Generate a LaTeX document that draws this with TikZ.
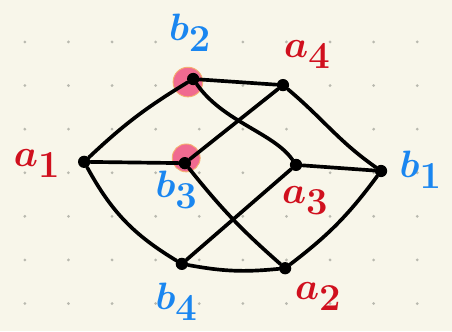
\documentclass[tikz,border=0pt]{standalone}
\usetikzlibrary{calc}
\usepackage{amsmath}
\definecolor{paper}{HTML}{F8F6EA}
\definecolor{griddot}{HTML}{B9B9AF}
\definecolor{inkred}{HTML}{D0101E}
\definecolor{inkblue}{HTML}{1A86F0}
\definecolor{marker}{HTML}{F06A90}
\definecolor{markeredge}{HTML}{F5B070}

\begin{document}
\begin{tikzpicture}[
    vtx/.style={circle, fill=black, inner sep=0pt, minimum size=8pt},
    edge/.style={line width=2.4pt, line cap=round},
    lblred/.style={text=inkred, font=\fontsize{35}{36}\selectfont\boldmath},
    lblblue/.style={text=inkblue, font=\fontsize{35}{36}\selectfont\boldmath},
    hilite/.style={fill=marker, draw=markeredge, line width=0.6pt}
  ]
  % Papel con puntos
  \fill[paper] (0,0) rectangle (10.367,7.592);
  \useasboundingbox (0,0) rectangle (10.367,7.592);
  \foreach \i in {0,...,9}
    \foreach \j in {0,...,6}
      \fill[griddot] (0.57+\i,0.63+\j) circle (0.035);

  % Marcas rosas
  \draw[hilite] (4.31,5.71) circle (0.34);
  \draw[hilite] (4.27,3.97) circle (0.32);

  % Vertices
  \node[vtx] (a1) at (1.93,3.88) {};
  \node[vtx] (b2) at (4.43,5.78) {};
  \node[vtx] (a4) at (6.49,5.64) {};
  \node[vtx] (b3) at (4.24,3.85) {};
  \node[vtx] (a3) at (6.79,3.81) {};
  \node[vtx] (b1) at (8.74,3.67) {};
  \node[vtx] (b4) at (4.17,1.54) {};
  \node[vtx] (a2) at (6.54,1.44) {};

  % Aristas
  \draw[edge] (a1) to[bend left=6] (b2);
  \draw[edge] (a1) -- (b3);
  \draw[edge] (a1) to[bend right=15] (b4);
  \draw[edge] (b2) -- (a4);
  \draw[edge] (b2) .. controls +(-55:1.2) and +(125:0.9) .. (a3);
  \draw[edge] (a4) -- (b3);
  \draw[edge] (a4) to[out=-40, in=145] (b1);
  \draw[edge] (a3) -- (b1);
  \draw[edge] (a3) -- (b4);
  \draw[edge] (b3) to[bend right=5] (a2);
  \draw[edge] (b1) to[bend left=8] (a2);
  \draw[edge] (b4) to[bend right=8] (a2);

  % Etiquetas
  \node[lblred]  (la1) at (0.85,3.85) {$a_1$};
  \node[lblblue] (lb2) at (4.36,6.85) {$b_2$};
  \node[lblred]  (la4) at (7.05,6.35) {$a_4$};
  \node[lblblue] (lb3) at (4.05,3.25) {$b_3$};
  \node[lblred]  (la3) at (7.00,3.00) {$a_3$};
  \node[lblblue] (lb1) at (9.65,3.70) {$b_1$};
  \node[lblblue] (lb4) at (4.05,0.68) {$b_4$};
  \node[lblred]  (la2) at (7.30,0.80) {$a_2$};
\end{tikzpicture}
\end{document}
